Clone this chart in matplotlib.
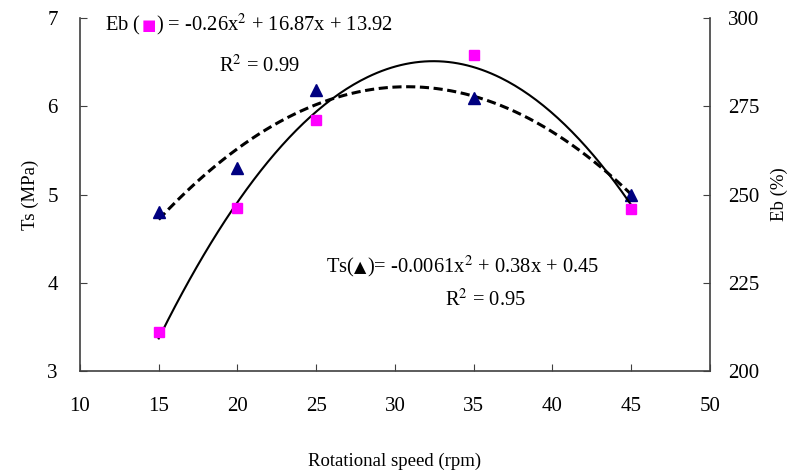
import numpy as np
import matplotlib
matplotlib.use("Agg")
import matplotlib.pyplot as plt

plt.rcParams["font.family"] = ["Liberation Serif", "DejaVu Sans"]
plt.rcParams["mathtext.fontset"] = "stix"
plt.rcParams["font.size"] = 13.5

# data
speed = [15, 20, 25, 35, 45]
ts = [4.80, 5.30, 6.18, 6.09, 5.00]          # MPa, left axis
eb = [211.0, 246.3, 271.0, 289.5, 245.8]     # %, right axis

x_ticks = [10, 15, 20, 25, 30, 35, 40, 45, 50]
ts_ticks = [3, 4, 5, 6, 7]
eb_ticks = [200, 225, 250, 275, 300]

# "${}$" keeps the first piece on the mathtext layout, same as the last one
eb_eq = ["Eb (${}$", "\u25a0", ") = -0.26x$^2$ + 16.87x + 13.92"]
ts_eq = ["Ts(${}$", "\u25b2", ")= -0.0061x$^2$ + 0.38x + 0.45"]
eb_r2 = "R$^2$ = 0.99"
ts_r2 = "R$^2$ = 0.95"

navy = "#000080"
pink = "#ff00ff"
eq_size = 14.8

fig = plt.figure(figsize=(7.91, 4.74), dpi=100)
ax = fig.add_axes([0.1011, 0.2173, 0.7965, 0.7447])
ax2 = ax.twinx()

# quadratic trendlines, like the spreadsheet ones
xs = np.linspace(min(speed), max(speed), 200)
p_eb = np.polyfit(speed, eb, 2)
p_ts = np.polyfit(speed, ts, 2)
ax2.plot(xs, np.polyval(p_eb, xs), color="black", lw=1.5, zorder=2)
ax.plot(xs, np.polyval(p_ts, xs), color="black", lw=2.2, ls=(0, (3, 1.5)), zorder=2)

ax.plot(speed, ts, ls="none", marker="^", color=navy, ms=8, zorder=3)
ax2.plot(speed, eb, ls="none", marker="s", color=pink, ms=7.5, zorder=3)

ax.set_xlim(10, 50)
ax.set_ylim(3, 7)
ax2.set_ylim(200, 300)
ax.set_xticks(x_ticks)
ax.set_yticks(ts_ticks)
ax2.set_yticks(eb_ticks)

for a in (ax, ax2):
    a.spines["top"].set_visible(False)
    for s in a.spines.values():
        s.set_color("#404040")
        s.set_linewidth(1.2)
ax.spines["right"].set_visible(False)
ax2.spines["left"].set_visible(False)
ax2.spines["bottom"].set_visible(False)

ax.tick_params(axis="x", direction="in", length=5, color="#404040", pad=19, labelsize=15)
ax.tick_params(axis="y", direction="in", length=5, color="#404040", pad=16, labelsize=15)
ax2.tick_params(axis="y", direction="in", length=5, color="#404040", pad=13, labelsize=15)

ax.set_xlabel("Rotational speed (rpm)", labelpad=26)
ax.set_ylabel("Ts (MPa)", labelpad=6)
ax2.set_ylabel("Eb (%)", rotation=90, labelpad=8)


def equation(pieces, mark_color, mark_size, xy):
    """Equation text with a coloured marker glyph between the brackets"""
    t1 = ax2.text(xy[0], xy[1], pieces[0], transform=ax.transAxes, size=eq_size,
                  ha="left", va="bottom")
    t2 = ax2.annotate(pieces[1], xy=(1, 0.5), xycoords=t1, ha="left", va="center",
                      color=mark_color, size=mark_size, family="DejaVu Sans")
    ax2.annotate(pieces[2], xy=(1, 0), xycoords=(t2, t1), ha="left", va="bottom",
                 size=eq_size)


equation(eb_eq, pink, 11, (0.04, 0.945))
ax.text(0.285, 0.865, eb_r2, transform=ax.transAxes, ha="center", va="center", size=eq_size)

equation(ts_eq, "black", 11.5, (0.39, 0.26))
ax.text(0.643, 0.2, ts_r2, transform=ax.transAxes, ha="center", va="center", size=eq_size)

fig.savefig("out.png", dpi=100)
